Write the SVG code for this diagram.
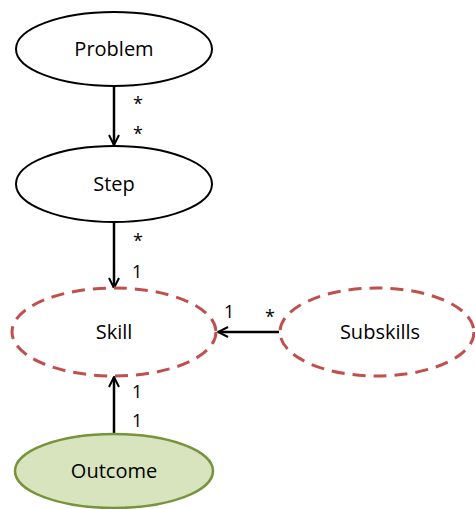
<svg xmlns="http://www.w3.org/2000/svg" width="475" height="509" viewBox="0 0 475 509">
<defs>
<style>
.solid{fill:#fff;stroke:#000;stroke-width:2}
.dash{fill:#fff;stroke:#c0504d;stroke-width:3;stroke-dasharray:13 8}
.green{fill:#d7e4bd;stroke:#77933c;stroke-width:2.5}
.lbl{font-family:"Open Sans","Liberation Sans",sans-serif;font-size:20px;fill:#000;text-anchor:middle}
.m{font-family:"Open Sans","Liberation Sans",sans-serif;font-size:18px;fill:#000}
.conn{stroke:#000;stroke-width:2.5;fill:none;marker-end:url(#ah)}
</style>
<marker id="ah" viewBox="0 0 12 12" refX="11" refY="6" markerWidth="12" markerHeight="12" markerUnits="userSpaceOnUse" orient="auto">
<path d="M1,1 L11,6 L1,11" fill="none" stroke="#000" stroke-width="2"/>
</marker>
</defs>
<rect width="475" height="509" fill="#fff"/>
<g id="connectors">
<line class="conn" x1="114" y1="86" x2="114" y2="145"/>
<line class="conn" x1="114" y1="222" x2="114" y2="288"/>
<line class="conn" x1="279" y1="332" x2="218" y2="332"/>
<line class="conn" x1="114" y1="433" x2="114" y2="377"/>
<text class="m" x="133" y="110">*</text>
<text class="m" x="133" y="140">*</text>
<text class="m" x="133" y="247">*</text>
<text class="m" x="132" y="278">1</text>
<text class="m" x="224" y="318">1</text>
<text class="m" x="265" y="323">*</text>
<text class="m" x="132" y="398">1</text>
<text class="m" x="132" y="427">1</text>
</g>
<g id="problem">
<ellipse class="solid" cx="114" cy="49" rx="98" ry="37"/>
<text class="lbl" x="114" y="56">Problem</text>
</g>
<g id="step">
<ellipse class="solid" cx="114" cy="184" rx="98" ry="38"/>
<text class="lbl" x="114" y="191">Step</text>
</g>
<g id="skill">
<ellipse class="dash" cx="114" cy="332" rx="102" ry="44"/>
<text class="lbl" x="114" y="339">Skill</text>
</g>
<g id="subskills">
<ellipse class="dash" cx="377" cy="332" rx="97" ry="44"/>
<text class="lbl" x="380" y="339">Subskills</text>
</g>
<g id="outcome">
<ellipse class="green" cx="114" cy="471" rx="99" ry="37"/>
<text class="lbl" x="114" y="478">Outcome</text>
</g>
</svg>
